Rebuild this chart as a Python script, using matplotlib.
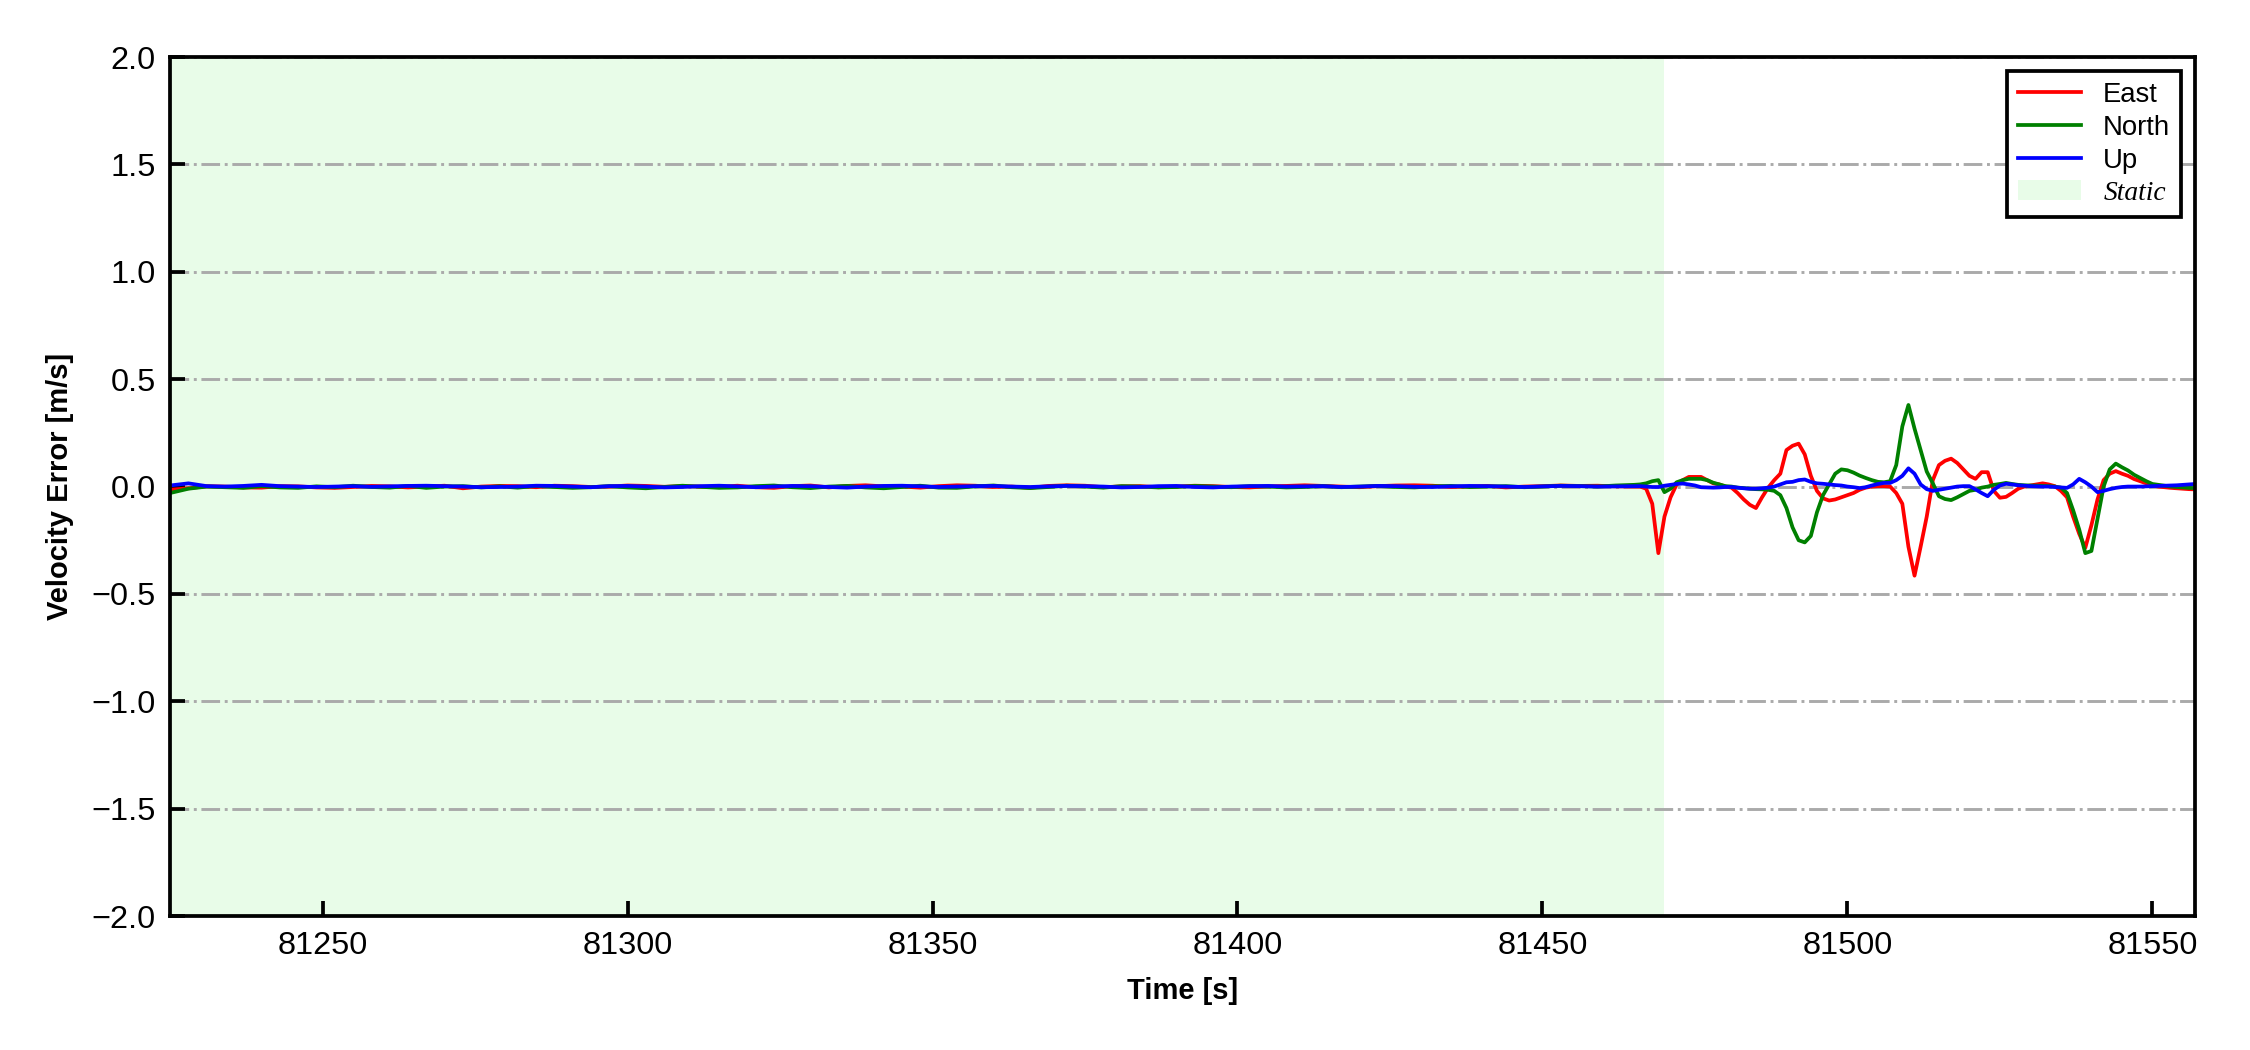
import numpy as np
import matplotlib
matplotlib.use("Agg")
import matplotlib.pyplot as plt

plt.rcParams['font.family'] = ['Liberation Sans', 'DejaVu Sans']

# static part: one sample every 3 s, then 1 s samples after the vehicle moves
t_static = np.arange(81225, 81466, 3)
t_dyn = np.arange(81466, 81558, 1)

east_static = [
    -0.015, -0.008, 0.002, 0.0, -0.004, -0.005, 0.002, 0.001, -0.004,
    -0.006, -0.002, 0.003, 0.001, -0.004, 0.0, 0.004, -0.008, 0.0,
    0.003, 0.002, -0.003, 0.004, 0.002, -0.002, 0.0, 0.005, 0.003,
    -0.001, 0.002, 0.0, -0.002, 0.004, -0.003, -0.006, 0.002, 0.005,
    -0.004, 0.003, 0.006, 0.001, 0.0, -0.005, 0.002, 0.006, 0.004,
    -0.002, 0.0, -0.006, 0.003, 0.006, 0.004, -0.003, 0.001, 0.002,
    -0.003, 0.0, 0.004, 0.002, -0.002, -0.004, 0.001, 0.003, 0.006,
    0.003, 0.0, -0.003, 0.002, 0.005, 0.006, 0.004, -0.002, 0.0,
    0.003, -0.004, 0.0, 0.002, 0.005, 0.003, 0.004, 0.001, 0.0,
]
north_static = [
    -0.03, -0.01, 0.0, -0.003, -0.006, 0.002, -0.004, -0.006, 0.001,
    -0.003, 0.004, -0.002, -0.005, 0.003, -0.006, 0.0, 0.002, -0.004,
    0.001, -0.005, 0.003, -0.002, -0.006, -0.003, 0.002, -0.004, -0.008,
    -0.002, 0.004, -0.001, -0.006, -0.004, 0.002, 0.005, -0.003, -0.007,
    0.0, 0.003, -0.004, -0.008, -0.002, 0.004, -0.005, -0.006, 0.001,
    0.005, -0.003, -0.007, -0.002, 0.004, 0.0, -0.005, 0.002, 0.0,
    -0.004, -0.002, 0.003, 0.0, -0.003, 0.002, 0.0, -0.004, -0.002,
    0.002, -0.003, 0.0, 0.003, -0.002, -0.004, 0.001, 0.003, -0.002,
    0.0, 0.002, -0.003, 0.0, 0.004, 0.002, 0.0, 0.005, 0.008,
]
up_static = [
    0.005, 0.015, 0.002, 0.0, 0.003, 0.008, 0.002, 0.0, -0.002,
    0.0, 0.002, -0.001, 0.001, 0.003, 0.004, 0.002, 0.0, -0.003,
    -0.002, 0.0, 0.004, 0.003, 0.0, -0.003, 0.002, 0.003, 0.0,
    -0.004, -0.002, 0.002, 0.004, 0.001, -0.003, 0.0, 0.003, 0.002,
    -0.002, -0.005, 0.0, 0.003, 0.004, 0.001, -0.002, 0.0, 0.002,
    0.003, 0.0, -0.002, 0.001, 0.003, 0.002, 0.0, -0.004, -0.002,
    0.002, 0.003, -0.002, -0.004, 0.0, 0.002, 0.003, 0.0, 0.001,
    0.002, -0.002, 0.0, 0.003, 0.002, -0.001, -0.002, 0.001, 0.003,
    0.002, 0.0, -0.002, 0.001, 0.003, 0.002, 0.0, 0.001, 0.002,
]

east_dyn = [
    0.0, -0.01, -0.08, -0.31, -0.14, -0.05, 0.01, 0.03, 0.045, 0.045,
    0.045, 0.03, 0.015, 0.01, 0.0, -0.005, -0.03, -0.06, -0.085, -0.1,
    -0.05, -0.005, 0.03, 0.06, 0.17, 0.19, 0.2, 0.15, 0.05, -0.02,
    -0.055, -0.065, -0.06, -0.05, -0.04, -0.03, -0.015, -0.005, 0.0, 0.002,
    0.002, 0.0, -0.03, -0.08, -0.28, -0.415, -0.28, -0.14, 0.03, 0.1,
    0.12, 0.13, 0.11, 0.08, 0.05, 0.036, 0.067, 0.067, -0.02, -0.052,
    -0.048, -0.03, -0.01, 0.0, 0.005, 0.01, 0.015, 0.01, 0.002, -0.02,
    -0.05, -0.14, -0.22, -0.285, -0.18, -0.06, 0.03, 0.06, 0.072, 0.06,
    0.05, 0.035, 0.025, 0.015, 0.005, 0.0, -0.003, -0.006, -0.008, -0.01,
    -0.012, -0.013,
]
north_dyn = [
    0.01, 0.015, 0.025, 0.03, -0.026, -0.01, 0.02, 0.03, 0.036, 0.036,
    0.036, 0.03, 0.018, 0.01, 0.002, 0.0, -0.005, -0.007, -0.01, -0.012,
    -0.013, -0.015, -0.02, -0.04, -0.1, -0.19, -0.25, -0.26, -0.23, -0.12,
    -0.04, 0.01, 0.06, 0.08, 0.076, 0.065, 0.051, 0.04, 0.03, 0.022,
    0.02, 0.025, 0.1, 0.28, 0.38, 0.27, 0.17, 0.07, 0.015, -0.045,
    -0.058, -0.063, -0.05, -0.035, -0.02, -0.015, -0.005, 0.0, 0.008, 0.012,
    0.017, 0.012, 0.008, 0.006, 0.005, 0.004, 0.003, 0.002, 0.0, -0.005,
    -0.03, -0.11, -0.2, -0.31, -0.3, -0.15, 0.0, 0.08, 0.107, 0.09,
    0.075, 0.055, 0.04, 0.025, 0.012, 0.008, 0.004, 0.0, -0.002, -0.004,
    -0.006, -0.007,
]
up_dyn = [
    0.002, 0.0, -0.002, -0.002, 0.004, 0.008, 0.012, 0.014, 0.01, 0.005,
    -0.003, -0.004, -0.005, -0.004, -0.002, -0.002, -0.005, -0.008, -0.01, -0.01,
    -0.008, -0.005, 0.0, 0.01, 0.02, 0.022, 0.03, 0.033, 0.022, 0.015,
    0.013, 0.01, 0.007, 0.005, 0.0, -0.003, -0.007, -0.003, 0.005, 0.012,
    0.017, 0.017, 0.03, 0.05, 0.085, 0.06, 0.01, -0.012, -0.02, -0.015,
    -0.01, -0.005, 0.0, 0.002, 0.002, -0.013, -0.03, -0.045, -0.015, 0.005,
    0.013, 0.01, 0.006, 0.004, 0.002, 0.001, 0.0, 0.0, -0.002, -0.004,
    -0.006, 0.01, 0.036, 0.02, 0.0, -0.026, -0.02, -0.012, -0.006, -0.002,
    0.0, 0.0, 0.0, 0.001, 0.002, 0.003, 0.004, 0.005, 0.006, 0.008,
    0.01, 0.012,
]

static_end = 81470
xlim = (81225, 81557)
yticks = np.arange(-2.0, 2.01, 0.5)
xticks = [81250, 81300, 81350, 81400, 81450, 81500, 81550]

t = np.concatenate([t_static, t_dyn])
east = np.array(east_static + east_dyn)
north = np.array(north_static + north_dyn)
up = np.array(up_static + up_dyn)

fig = plt.figure(figsize=(7.5, 3.5), dpi=300)
ax = fig.add_axes([0.0756, 0.1276, 0.9, 0.818])

ax.axvspan(xlim[0], static_end, color='#e8fce8', lw=0, zorder=0.2, label='Static')
ax.plot(t, east, color='red', lw=0.9, label='East')
ax.plot(t, north, color='green', lw=0.9, label='North')
ax.plot(t, up, color='blue', lw=0.9, label='Up')

ax.set_xlim(*xlim)
ax.set_ylim(-2, 2)
ax.set_yticks(yticks)
ax.set_xticks(xticks)
ax.yaxis.grid(True, linestyle='-.', color='#aaaaaa', lw=0.7)
ax.set_axisbelow(True)
ax.tick_params(direction='in', labelsize=7.8, width=0.9, length=3.5)
for sp in ax.spines.values():
    sp.set_linewidth(0.9)

ax.set_xlabel('Time [s]', fontsize=7, fontweight='bold')
ax.set_ylabel('Velocity Error [m/s]', fontsize=7, fontweight='bold')

h, l = ax.get_legend_handles_labels()
order = [1, 2, 3, 0]
leg = ax.legend([h[i] for i in order], [l[i] for i in order], loc='upper right',
                fontsize=6.6, fancybox=False, edgecolor='black', framealpha=1,
                labelspacing=0.25, handlelength=2.3)
leg.get_frame().set_linewidth(0.9)
leg.get_texts()[3].set_fontfamily('Liberation Serif')
leg.get_texts()[3].set_fontstyle('italic')

fig.savefig('out.png', dpi=300)
